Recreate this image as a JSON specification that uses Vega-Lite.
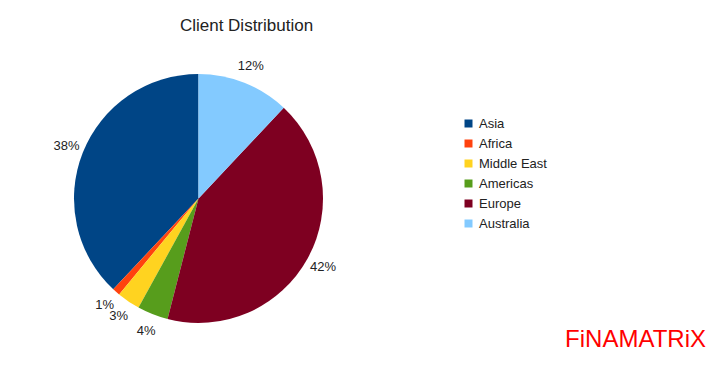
{
  "$schema": "https://vega.github.io/schema/vega-lite/v6.json",
  "autosize": {"type": "none"},
  "padding": {"left": 74, "top": 74, "right": 403, "bottom": 49},
  "width": 249,
  "height": 249,
  "background": "white",
  "title": {
    "text": "Client Distribution",
    "font": "Liberation Sans",
    "fontSize": 17,
    "fontWeight": "normal",
    "color": "#222222",
    "anchor": "middle",
    "dx": 48,
    "offset": 25
  },
  "config": {
    "view": {"stroke": null},
    "font": "Liberation Sans"
  },
  "layer": [
    {
      "data": {
        "values": [
          {"region": "Asia", "idx": 1, "share": 0.38},
          {"region": "Africa", "idx": 2, "share": 0.01},
          {"region": "Middle East", "idx": 3, "share": 0.03},
          {"region": "Americas", "idx": 4, "share": 0.04},
          {"region": "Europe", "idx": 5, "share": 0.42},
          {"region": "Australia", "idx": 6, "share": 0.12}
        ]
      },
      "encoding": {
        "theta": {"field": "share", "type": "quantitative", "stack": true},
        "order": {"field": "idx", "type": "quantitative", "sort": "descending"}
      },
      "layer": [
        {
          "mark": {"type": "arc", "outerRadius": 124.5, "stroke": null},
          "encoding": {
            "color": {
              "field": "region",
              "type": "nominal",
              "scale": {
                "domain": ["Asia", "Africa", "Middle East", "Americas", "Europe", "Australia"],
                "range": ["#004586", "#ff420e", "#ffd320", "#579d1c", "#7e0021", "#83caff"]
              },
              "legend": {
                "title": null,
                "orient": "right",
                "offset": 96,
                "padding": 43,
                "symbolType": "square",
                "symbolSize": 64,
                "symbolStrokeWidth": 0,
                "labelFont": "Liberation Sans",
                "labelFontSize": 13,
                "labelColor": "#222222",
                "labelOffset": 4,
                "rowPadding": 6
              }
            }
          }
        },
        {
          "mark": {"type": "text", "radius": 142, "font": "Liberation Sans", "fontSize": 13, "color": "#222222", "align": "center", "baseline": "middle"},
          "encoding": {
            "text": {"field": "share", "type": "quantitative", "format": ".0%"}
          }
        }
      ]
    },
    {
      "data": {"values": [{"brand": "FiNAMATRiX"}]},
      "mark": {"type": "text", "font": "Liberation Sans", "fontSize": 24, "color": "#ff0000", "align": "right", "baseline": "alphabetic", "x": 632, "y": 273},
      "encoding": {"text": {"field": "brand", "type": "nominal"}}
    }
  ]
}
